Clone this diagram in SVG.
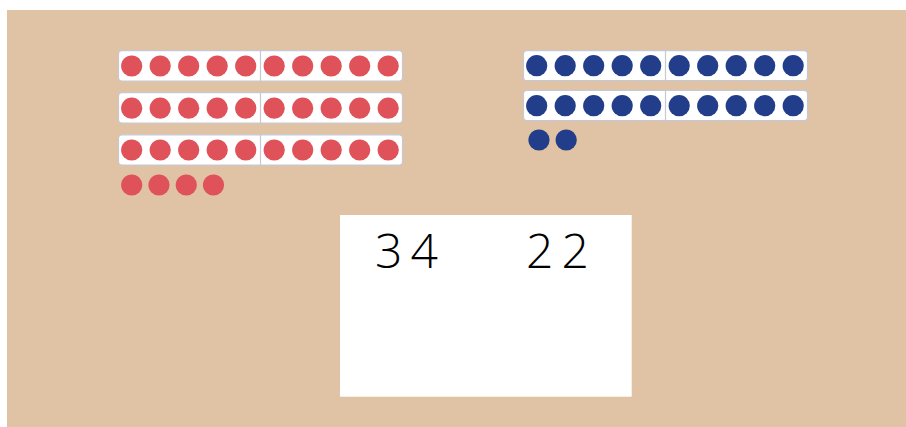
<svg xmlns="http://www.w3.org/2000/svg" xmlns:xlink="http://www.w3.org/1999/xlink" width="906" height="427" viewBox="0 0 906 427">
<style>
.strip{fill:#ffffff;stroke:#c6c9d4;stroke-width:1.2}
.div{stroke:#c6c9d4;stroke-width:1.2}
.r{fill:#e05259}
.b{fill:#223d8a}
.num{font-family:"Open Sans","Lato","DejaVu Sans",sans-serif;font-weight:300;font-size:48px;fill:#000000;letter-spacing:8px}
</style>
<defs>
<g id="redRow">
<circle class="r" cx="0" cy="0" r="10.6"/><circle class="r" cx="28.5" cy="0" r="10.6"/><circle class="r" cx="57" cy="0" r="10.6"/><circle class="r" cx="85.5" cy="0" r="10.6"/><circle class="r" cx="114" cy="0" r="10.6"/><circle class="r" cx="142.5" cy="0" r="10.6"/><circle class="r" cx="171" cy="0" r="10.6"/><circle class="r" cx="199.5" cy="0" r="10.6"/><circle class="r" cx="228" cy="0" r="10.6"/><circle class="r" cx="256.5" cy="0" r="10.6"/>
</g>
<g id="blueRow">
<circle class="b" cx="0" cy="0" r="10.6"/><circle class="b" cx="28.5" cy="0" r="10.6"/><circle class="b" cx="57" cy="0" r="10.6"/><circle class="b" cx="85.5" cy="0" r="10.6"/><circle class="b" cx="114" cy="0" r="10.6"/><circle class="b" cx="142.5" cy="0" r="10.6"/><circle class="b" cx="171" cy="0" r="10.6"/><circle class="b" cx="199.5" cy="0" r="10.6"/><circle class="b" cx="228" cy="0" r="10.6"/><circle class="b" cx="256.5" cy="0" r="10.6"/>
</g>
</defs>
<rect x="7" y="10" width="899" height="417" fill="#e0c2a4"/>
<g id="red-strip-1">
<rect class="strip" x="118.5" y="50.7" width="284" height="30.3" rx="3.5"/>
<line class="div" x1="260.5" y1="51" x2="260.5" y2="81"/>
<use xlink:href="#redRow" x="131.7" y="66"/>
</g>
<g id="red-strip-2">
<rect class="strip" x="118.5" y="92.7" width="284" height="30.3" rx="3.5"/>
<line class="div" x1="260.5" y1="93" x2="260.5" y2="123"/>
<use xlink:href="#redRow" x="131.7" y="108.2"/>
</g>
<g id="red-strip-3">
<rect class="strip" x="118.5" y="134.8" width="284" height="30.3" rx="3.5"/>
<line class="div" x1="260.5" y1="135" x2="260.5" y2="165"/>
<use xlink:href="#redRow" x="131.7" y="150"/>
</g>
<g id="red-loose">
<circle class="r" cx="131.7" cy="185" r="10.6"/><circle class="r" cx="159" cy="185" r="10.6"/><circle class="r" cx="186.3" cy="185" r="10.6"/><circle class="r" cx="213.5" cy="185" r="10.6"/>
</g>
<g id="blue-strip-1">
<rect class="strip" x="523.5" y="50.7" width="284" height="30" rx="3.5"/>
<line class="div" x1="665.5" y1="51" x2="665.5" y2="80.7"/>
<use xlink:href="#blueRow" x="536.7" y="65.7"/>
</g>
<g id="blue-strip-2">
<rect class="strip" x="523.5" y="90.3" width="284" height="30.3" rx="3.5"/>
<line class="div" x1="665.5" y1="90.5" x2="665.5" y2="120.5"/>
<use xlink:href="#blueRow" x="536.7" y="105.7"/>
</g>
<g id="blue-loose">
<circle class="b" cx="539" cy="140" r="10.6"/><circle class="b" cx="566.2" cy="140" r="10.6"/>
</g>
<g id="card">
<rect x="340" y="215" width="291.7" height="181.7" fill="#ffffff"/>
<text class="num" x="375" y="268">34</text>
<text class="num" x="526" y="268">22</text>
</g>
</svg>
